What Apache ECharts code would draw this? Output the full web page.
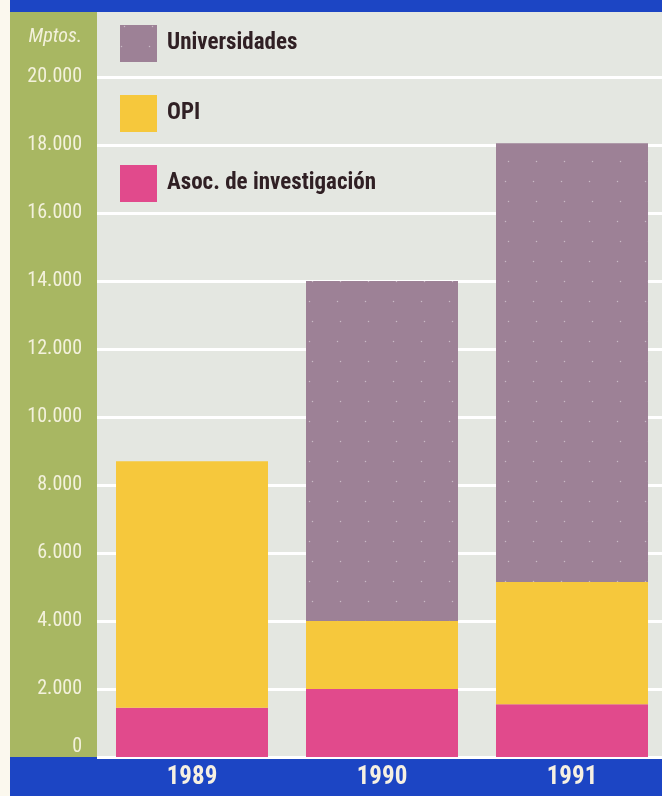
<!DOCTYPE html>
<html>
<head>
<meta charset="utf-8">
<script src="https://cdn.jsdelivr.net/npm/echarts@6/dist/echarts.min.js"></script>
<style>
  html, body { margin: 0; padding: 0; background: #fbf8ee; overflow: hidden; }
  #chart { width: 672px; height: 796px; }
</style>
</head>
<body>
<div id="chart"></div>
<script>
// datos (millones de pesetas)
const years = ['1989', '1990', '1991']
const asoc = [1450, 2000, 1550]
const opi = [7250, 2000, 3600]
const univ = [0, 10000, 12900]
const yTicks = [0, 2000, 4000, 6000, 8000, 10000, 12000, 14000, 16000, 18000, 20000]

const FONT = '"Roboto Condensed", "Open Sans Condensed", "DejaVu Sans Condensed", sans-serif'
const BLUE = '#1c45c4'
const OLIVE = '#a8b762'

const chart = echarts.init(document.getElementById('chart'))

// fondo: banda azul, franja verde y área gris
const plotTop = 12
const plotBottom = 757

chart.setOption({
  backgroundColor: '#fbf8ee',
  animation: false,
  graphic: [
    { type: 'rect', z: -10, shape: { x: 10, y: 0, width: 662, height: plotTop }, style: { fill: BLUE } },
    { type: 'rect', z: -10, shape: { x: 10, y: plotTop, width: 87, height: plotBottom - plotTop }, style: { fill: OLIVE } },
    { type: 'rect', z: -10, shape: { x: 97, y: plotTop, width: 575, height: plotBottom - plotTop }, style: { fill: '#e4e7e1' } },
    { type: 'rect', z: -10, shape: { x: 10, y: plotBottom, width: 662, height: 796 - plotBottom }, style: { fill: BLUE } }
  ],
  legend: {
    orient: 'vertical',
    left: 115,
    top: 20,
    itemWidth: 37,
    itemHeight: 37,
    itemGap: 33,
    icon: 'rect',
    data: ['Universidades', 'OPI', 'Asoc. de investigación'],
    textStyle: {
      color: '#302024',
      fontFamily: FONT,
      fontWeight: 'bold',
      fontSize: 23,
      padding: [0, 0, 0, 5]
    }
  },
  grid: {
    left: 97,
    top: 77,
    right: 5,
    bottom: 796 - plotBottom,
    containLabel: false
  },
  xAxis: {
    type: 'category',
    data: years,
    axisLine: { show: false },
    axisTick: { show: false },
    axisLabel: {
      color: '#f6f0e2',
      fontFamily: FONT,
      fontWeight: 'bold',
      fontSize: 25,
      margin: 8
    }
  },
  yAxis: {
    type: 'value',
    min: yTicks[0],
    max: yTicks[yTicks.length - 1],
    interval: 2000,
    name: 'Mptos.',
    nameLocation: 'end',
    nameGap: 30,
    nameTextStyle: {
      color: '#f3f1dc',
      fontFamily: FONT,
      fontStyle: 'italic',
      fontSize: 20,
      align: 'right',
      padding: [0, 15, 0, 0]
    },
    axisLine: { show: false },
    axisTick: { show: false },
    splitLine: { lineStyle: { color: '#ffffff', width: 3 } },
    axisLabel: {
      color: '#f3f1dc',
      fontFamily: FONT,
      fontSize: 20,
      margin: 15,
      verticalAlignMinLabel: 'bottom',
      formatter: function (v) {
        return v.toString().replace(/\B(?=(\d{3})+(?!\d))/g, '.')
      }
    }
  },
  series: [
    {
      name: 'Asoc. de investigación',
      type: 'bar',
      stack: 'total',
      barWidth: 152,
      itemStyle: { color: '#e14a8c' },
      data: asoc
    },
    {
      name: 'OPI',
      type: 'bar',
      stack: 'total',
      barWidth: 152,
      itemStyle: { color: '#f6c83c' },
      data: opi
    },
    {
      name: 'Universidades',
      type: 'bar',
      stack: 'total',
      barWidth: 152,
      itemStyle: {
        color: '#9d8196',
        // puntitos de la trama
        decal: {
          symbol: 'circle',
          symbolSize: 0.5,
          color: 'rgba(255,255,255,0.45)',
          dashArrayX: [[3, 25], [0, 3, 3, 22]],
          dashArrayY: [3, 17],
          rotation: 0
        }
      },
      data: univ
    }
  ]
})
</script>
</body>
</html>
